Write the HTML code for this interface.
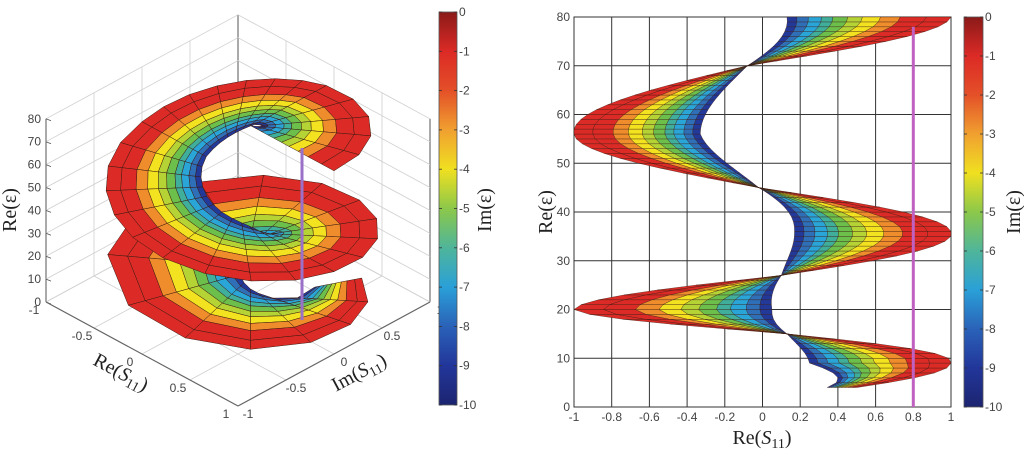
<!DOCTYPE html>
<html><head><meta charset="utf-8">
<style>
html,body{margin:0;padding:0;background:#fff;}
svg{display:block;font-family:"Liberation Sans",sans-serif;}
.tk{font-size:12px;fill:#444;}
.lab{font-family:"Liberation Serif",serif;font-size:20px;fill:#222;}
</style></head>
<body>
<svg id="fig" width="1024" height="453" viewBox="0 0 1024 453">
<defs>
<linearGradient id="jet" x1="0" y1="1" x2="0" y2="0">
<stop offset="0" stop-color="#1c2470"/><stop offset="0.1" stop-color="#22369a"/>
<stop offset="0.2" stop-color="#2a62b8"/><stop offset="0.3" stop-color="#2aa0d8"/>
<stop offset="0.4" stop-color="#4fb59a"/><stop offset="0.5" stop-color="#8cc84a"/>
<stop offset="0.6" stop-color="#f0e020"/><stop offset="0.7" stop-color="#f0a030"/>
<stop offset="0.8" stop-color="#e45028"/><stop offset="0.9" stop-color="#dc2a26"/>
<stop offset="1" stop-color="#8a1a18"/>
</linearGradient>
</defs>
<g id="left"></g>
<g id="right"></g>
</svg>
<script>
// Anchor data
const anchorEps = [4, 9, 15, 20, 27, 36, 45, 56, 70, 80];
const anchorPhase = [-1.13, 0, 1.571, 3.142, 4.712, 6.283, 7.854, 9.425, 10.996, 12.566];
const anchorCenter = [0.13, 0.13, 0.13, 0.1, 0.1, 0.05, -0.02, -0.05, -0.08, -0.08];
const redAmp = [0.87, 0.87, 0.98, 1.1, 1.02, 0.95, 0.95, 0.95, 1.0, 1.08];
const blueAmp = [0.5, 0.12, 0.09, 0.05, 0.08, 0.12, 0.2, 0.28, 0.25, 0.21];
const imLevels = [0, -1, -2, -3, -4, -5, -6, -7, -8, -9, -10];
const levelFrac = [0, 0.15, 0.31, 0.43, 0.54, 0.63, 0.72, 0.79, 0.87, 0.94, 1];
const bandColors = ['#dc2b26', '#dc2b26', '#ef8c2c', '#f3e21f', '#b5d335', '#6cbf4b', '#3fae9a', '#2aa5d8', '#2f6fb8', '#23399a'];
const epsTicks = [0, 10, 20, 30, 40, 50, 60, 70, 80];
const s11Ticks2d = ['-1', '-0.8', '-0.6', '-0.4', '-0.2', '0', '0.2', '0.4', '0.6', '0.8', '1'];
const s11Ticks3d = ['-1', '-0.5', '0', '0.5', '1'];
const cbTicks = ['0', '-1', '-2', '-3', '-4', '-5', '-6', '-7', '-8', '-9', '-10'];
const markerRe = [0.8];

const NS = 'http://www.w3.org/2000/svg';
function mk(tag, attrs, parent, txt) {
  const e = document.createElementNS(NS, tag);
  for (const k in attrs) e.setAttribute(k, attrs[k]);
  if (txt !== undefined) e.textContent = txt;
  parent.appendChild(e);
  return e;
}
function interp(arr, e) {
  if (e <= anchorEps[0]) return arr[0];
  for (let i = 0; i < anchorEps.length - 1; i++) {
    if (e <= anchorEps[i + 1]) {
      const t = (e - anchorEps[i]) / (anchorEps[i + 1] - anchorEps[i]);
      return arr[i] + t * (arr[i + 1] - arr[i]);
    }
  }
  return arr[arr.length - 1];
}
function surf(e, k) {
  const f = levelFrac[k];
  const a = interp(redAmp, e) * (1 - f) + interp(blueAmp, e) * f;
  const p = interp(anchorPhase, e), c = interp(anchorCenter, e);
  return { re: Math.max(-1, Math.min(1, c + a * Math.cos(p))), im: -a * Math.sin(p) };
}
function colorbar(g, x, y0, y1, w) {
  const r = mk('rect', { x: x, y: y0, width: w, height: y1 - y0, fill: 'url(#jet)', stroke: '#555', 'stroke-width': 0.8 }, g);
  
  
  cbTicks.forEach((t, i) => {
    const y = y0 + i * (y1 - y0) / (cbTicks.length - 1);
    mk('line', { x1: x, x2: x + 3, y1: y, y2: y, stroke: '#333', 'stroke-width': 0.8 }, g);
    mk('line', { x1: x + w - 3, x2: x + w, y1: y, y2: y, stroke: '#333', 'stroke-width': 0.8 }, g);
    const tx = mk('text', { x: x + w + 2, y: y + 4, class: 'tk' }, g, t);
    
    
  });
}
const E0 = 4, E1 = 80;

// ---------- RIGHT 2D ----------
(function () {
  const g = document.getElementById('right');
  const X0 = 574, X1 = 951, Y0 = 407, Y1 = 17;
  const sx = v => X0 + (v + 1) / 2 * (X1 - X0);
  const sy = e => Y0 - e / 80 * (Y0 - Y1);
  mk('rect', { x: X0, y: Y1, width: X1 - X0, height: Y0 - Y1, fill: '#fff', stroke: '#333', 'stroke-width': 1 }, g);
  s11Ticks2d.forEach(t => {
    const x = sx(parseFloat(t));
    mk('line', { x1: x, x2: x, y1: Y1, y2: Y0, stroke: '#333', 'stroke-width': 1 }, g);
    const tx = mk('text', { x: x, y: Y0 + 14, class: 'tk', 'text-anchor': 'middle' }, g, t);
    
    
  });
  epsTicks.forEach(t => {
    const y = sy(t);
    mk('line', { x1: X0, x2: X1, y1: y, y2: y, stroke: '#333', 'stroke-width': 1 }, g);
    const tx = mk('text', { x: X0 - 4, y: y + 4, class: 'tk', 'text-anchor': 'end' }, g, String(t));
    
    
  });
  const sg = mk('g', {}, g);
  
  
  const dE = 1;
  for (let k = 0; k < imLevels.length - 1; k++) {
    const col = bandColors[k];
    for (let e = E0; e < E1; e += dE) {
      const a = surf(e, k), b = surf(e, k + 1), c = surf(e + dE, k + 1), d = surf(e + dE, k);
      const pts = [[a.re, e], [b.re, e], [c.re, e + dE], [d.re, e + dE]].map(p => sx(p[0]).toFixed(1) + ',' + sy(p[1]).toFixed(1)).join(' ');
      mk('polygon', { points: pts, fill: col, stroke: '#3a1a10', 'stroke-width': 0.35 }, sg);
    }
  }
  markerRe.forEach(r => {
    const l = mk('line', { x1: sx(r), x2: sx(r), y1: sy(78), y2: sy(0), stroke: '#c060c0', 'stroke-width': 3 }, g);
    
    
  });
  const xl = mk('text', { x: 762, y: 444, class: 'lab', 'text-anchor': 'middle' }, g);
  xl.innerHTML = 'Re(<tspan font-style="italic">S</tspan><tspan font-size="14" dy="4">11</tspan><tspan dy="-4">)</tspan>';
  
  
  const yl = mk('text', { x: 0, y: 0, class: 'lab', 'text-anchor': 'middle', transform: 'translate(552,212) rotate(-90)' }, g, 'Re(ε)');
  
  
  colorbar(g, 964, 17, 407, 19);
  const cl = mk('text', { x: 0, y: 0, class: 'lab', 'text-anchor': 'middle', transform: 'translate(1020,212) rotate(-90)' }, g, 'Im(ε)');
  
  
})();

// ---------- LEFT 3D ----------
(function () {
  const g = document.getElementById('left');
  const P = (re, im, e) => [238 + 96 * (re + im), 302 + 52 * (re - im) - 2.29 * e];
  const ln = (a, b, st, w) => mk('line', { x1: a[0], y1: a[1], x2: b[0], y2: b[1], stroke: st, 'stroke-width': w }, g);
  const grid = '#cfcfcf';
  s11Ticks3d.forEach(t => {
    const v = parseFloat(t);
    ln(P(-1, v, 0), P(-1, v, 80), v === -1 || v === 1 ? '#555' : grid, v === -1 || v === 1 ? 1 : 0.8);
    ln(P(v, 1, 0), P(v, 1, 80), v === 1 ? '#555' : grid, v === 1 ? 1 : 0.8);
    ln(P(v, -1, 0), P(v, 1, 0), grid, 0.8);
    ln(P(-1, v, 0), P(1, v, 0), grid, 0.8);
  });
  epsTicks.forEach(t => {
    ln(P(-1, -1, t), P(-1, 1, t), grid, 0.8);
    ln(P(-1, 1, t), P(1, 1, t), grid, 0.8);
    const p = P(-1, -1, t);
    const tx = mk('text', { x: p[0] - 5, y: p[1] + 4, class: 'tk', 'text-anchor': 'end' }, g, String(t));
    
    
    mk('line', { x1: p[0], y1: p[1], x2: p[0] + 5, y2: p[1] + 2, stroke: '#555', 'stroke-width': 0.8 }, g);
  });
  ln(P(-1, -1, 0), P(1, -1, 0), '#666', 1.2);
  ln(P(1, -1, 0), P(1, 1, 0), '#666', 1.2);
  s11Ticks3d.forEach(t => {
    const v = parseFloat(t);
    const a = P(v, -1, 0);
    const t1 = mk('text', { x: a[0] - 12, y: a[1] + 12, class: 'tk', 'text-anchor': 'middle' }, g, t);
    
    
    const b = P(1, v, 0);
    const t2 = mk('text', { x: b[0] + 10, y: b[1] + 12, class: 'tk', 'text-anchor': 'middle' }, g, t);
    
    
  });
  const quads = [];
  const dE = 2;
  for (let k = 0; k < imLevels.length - 1; k++) {
    const col = bandColors[k];
    for (let e = E0; e < E1; e += dE) {
      const cs = [[e, k], [e, k + 1], [e + dE, k + 1], [e + dE, k]].map(q => { const s = surf(q[0], q[1]); return [s.re, s.im, q[0]]; });
      let d = 0; cs.forEach(c => { d += 83.6 * (c[0] - c[1]) + 1.37 * c[2]; });
      quads.push({ d: d, col: col, pts: cs.map(c => P(c[0], c[1], c[2])) });
    }
  }
  quads.sort((a, b) => a.d - b.d);
  const sg = mk('g', {}, g);
  
  
  quads.forEach(q => mk('polygon', { points: q.pts.map(p => p[0].toFixed(1) + ',' + p[1].toFixed(1)).join(' '), fill: q.col, stroke: '#3a1a10', 'stroke-width': 0.5 }, sg));
  const m = mk('line', { x1: 302, y1: 148, x2: 302, y2: 320, stroke: '#9a70c8', 'stroke-width': 3 }, g);
  
  
  const rl = mk('text', { x: 0, y: 0, class: 'lab', 'text-anchor': 'middle', transform: 'translate(118,378) rotate(28)' }, g);
  rl.innerHTML = 'Re(<tspan font-style="italic">S</tspan><tspan font-size="14" dy="4">11</tspan><tspan dy="-4">)</tspan>';
  
  
  const il = mk('text', { x: 0, y: 0, class: 'lab', 'text-anchor': 'middle', transform: 'translate(362,378) rotate(-28)' }, g);
  il.innerHTML = 'Im(<tspan font-style="italic">S</tspan><tspan font-size="14" dy="4">11</tspan><tspan dy="-4">)</tspan>';
  
  
  const zl = mk('text', { x: 0, y: 0, class: 'lab', 'text-anchor': 'middle', transform: 'translate(16,210) rotate(-90)' }, g, 'Re(ε)');
  
  
  colorbar(g, 439, 12, 405, 18);
  const cl = mk('text', { x: 0, y: 0, class: 'lab', 'text-anchor': 'middle', transform: 'translate(491,210) rotate(-90)' }, g, 'Im(ε)');
  
  
})();
</script>
</body></html>
